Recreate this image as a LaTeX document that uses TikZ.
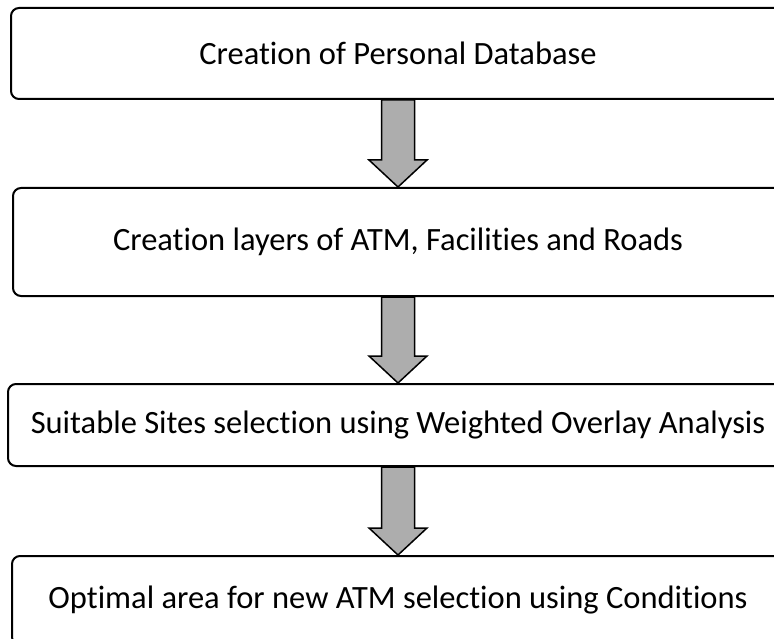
\documentclass[tikz,border=0pt]{standalone}
\usepackage{fontspec}
\setmainfont[Ligatures={NoCommon,NoContextual}]{Carlito}
\usepackage{xcolor}
\usepackage{tikz}
\usetikzlibrary{arrows,positioning,calc}
\definecolor{arrowgray}{RGB}{173,173,173}

\begin{document}
\begin{tikzpicture}[>=latex',x=1pt,y=1pt]
        \tikzset{block/.style= {draw, rectangle, rounded corners=8pt, line width=2pt, align=center, font=\fontsize{32.5}{38}\selectfont},
        fatarrow/.style={draw, line width=1.5pt, fill=arrowgray, line join=miter,
        to path={ % block arrow from start down to target
        ($(\tikztostart)+(-16.5,0)$) -- ($(\tikztotarget)+(-16.5,27)$) -- ($(\tikztotarget)+(-29,27)$)
        -- (\tikztotarget) -- ($(\tikztotarget)+(29,27)$) -- ($(\tikztotarget)+(16.5,27)$)
        -- ($(\tikztostart)+(16.5,0)$) -- cycle}
    },
        }
        \useasboundingbox (0,0) rectangle (774,-639);
        \clip (0,0) rectangle (774,-639);
        \node [block, minimum width=774pt, minimum height=91pt] at (398,-53.5) (db) {Creation of Personal Database};
        \node [block, minimum width=770pt, minimum height=108pt, below =87pt of db] (layers) {Creation layers of ATM, Facilities and Roads};
        \node [block, minimum width=780pt, minimum height=82pt, below =86pt of layers] (sites) {Suitable Sites selection using Weighted Overlay Analysis};
        \node [block, minimum width=772pt, minimum height=89pt, below =88pt of sites] (area) {Optimal area for new ATM selection using Conditions};

%% block arrows
        \draw [fatarrow] (db.south) to (layers.north);
        \draw [fatarrow] (layers.south) to (sites.north);
        \draw [fatarrow] (sites.south) to (area.north);
    \end{tikzpicture}
\end{document}
